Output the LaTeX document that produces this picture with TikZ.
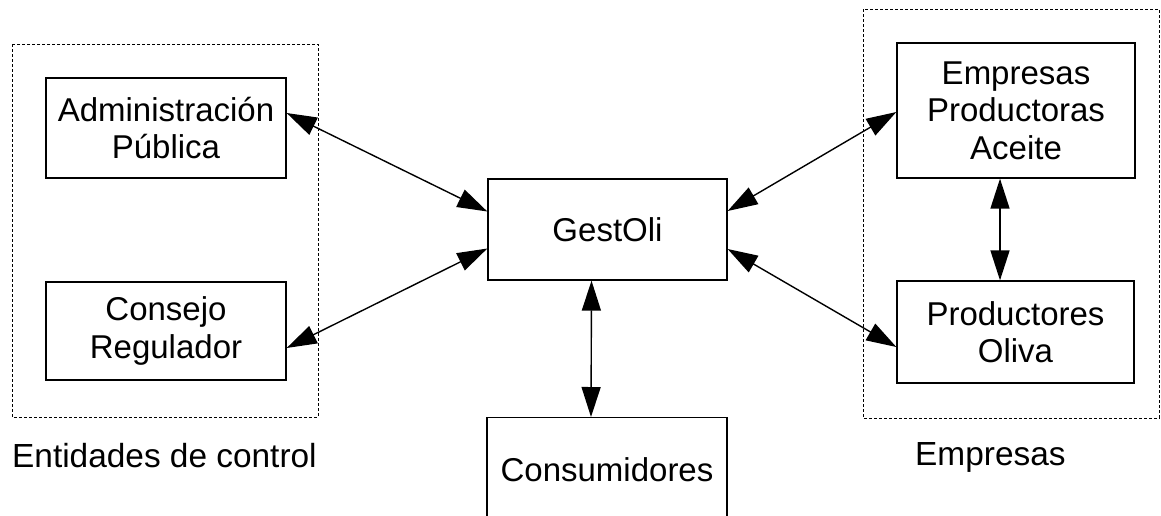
\documentclass[tikz,border=0pt]{standalone}
\usepackage{fontspec}
\setmainfont{Liberation Sans}
\usetikzlibrary{arrows.meta,calc}
\begin{document}
\begin{tikzpicture}[x=1pt,y=-1pt,
  box/.style={draw=black, line width=1.3pt, inner sep=0pt, align=center,
    font=\fontsize{33}{37.5}\selectfont},
  group/.style={draw=black, line width=0.9pt, dash pattern=on 3pt off 2pt},
  link/.style={line width=1.4pt, {Triangle[length=30pt,width=19pt]}-{Triangle[length=30pt,width=19pt]}},
  lbl/.style={anchor=base west, inner sep=0pt, font=\fontsize{33.4}{38}\selectfont}]
\useasboundingbox (0,0) rectangle (1161,515);
\clip (0,0) rectangle (1161,515);
\fill[white] (0,0) rectangle (1161,515);
% group frames
\draw[group] (12,44) rectangle (318,417);
\draw[group] (863,9) rectangle (1159,418);
% boxes
\node[box, minimum width=240pt, minimum height=100pt] (admin) at (166,128) {Administración\\Pública};
\node[box, minimum width=240pt, minimum height=98pt] (consejo) at (166,331) {Consejo\\Regulador};
\node[box, minimum width=239pt, minimum height=101pt] (gest) at (607.5,229.5) {GestOli};
\node[box, minimum width=240pt, minimum height=104pt, anchor=north] (cons) at (607,417) {Consumidores};
\node[box, minimum width=238pt, minimum height=135pt] (epa) at (1016,110.5) {Empresas\\Productoras\\Aceite};
\node[box, minimum width=237pt, minimum height=102pt] (po) at (1015.5,332) {Productores\\Oliva};
% labels
\node[lbl] (lctrl) at (12,467) {Entidades de control};
\node[lbl] (lemp) at (915,465) {Empresas};
% connectors
\draw[link] ($(admin.east)+(0,-15)$) -- ($(gest.west)+(0,-18)$);
\draw[link] ($(consejo.east)+(0,17)$) -- ($(gest.west)+(0,19)$);
\draw[link] ($(gest.south)+(-16,0)$) -- ($(cons.north)+(-16,0)$);
\draw[link] ($(gest.east)+(0,-18.5)$) -- ($(epa.west)+(0,1.5)$);
\draw[link] ($(gest.east)+(0,19.5)$) -- ($(po.west)+(0,15)$);
\draw[link] ($(epa.south)+(-16,0)$) -- ($(po.north)+(-15.5,0)$);
\end{tikzpicture}
\end{document}
